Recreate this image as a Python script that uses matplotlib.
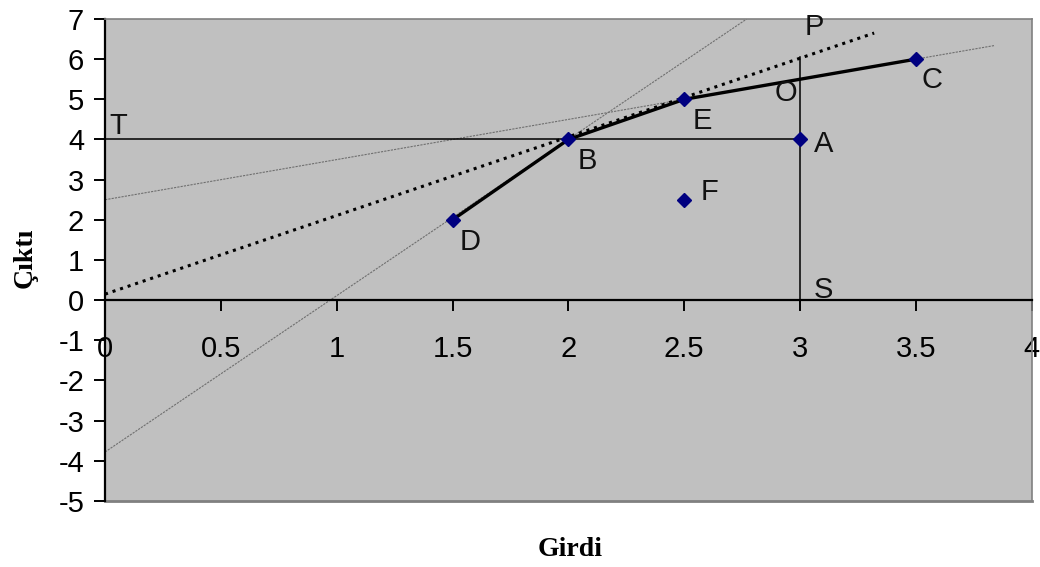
import matplotlib.pyplot as plt
import numpy as np

# noktalar
px = [1.5, 2.0, 2.5, 3.5, 3.0, 2.5]
py = [2.0, 4.0, 5.0, 6.0, 4.0, 2.5]

# kalin egri D-B-E-C
egri_x = [1.5, 2.0, 2.5, 3.5]
egri_y = [2.0, 4.0, 5.0, 6.0]

# yardimci cizgiler
isin_x = [0.0, 3.32]          # noktali, orijinden B'ye
isin_y = [0.15, 6.65]
teget1_x = [0.0, 3.84]        # E-C teget
teget1_y = [2.5, 6.34]
teget2_x = [0.0, 2.77]        # D-B teget
teget2_y = [-3.78, 7.0]
yatay_x = [0.0, 3.0]          # T-A
yatay_y = [4.0, 4.0]
dikey_x = [3.0, 3.0]          # S-P
dikey_y = [0.0, 6.05]

etiketler = ['T', 'B', 'D', 'E', 'F', 'A', 'C', 'O', 'P', 'S']
etiket_x = [0.056, 2.08, 1.575, 2.58, 2.61, 3.10, 3.57, 2.94, 3.06, 3.10]
etiket_y = [4.34, 3.46, 1.45, 4.46, 2.69, 3.89, 5.48, 5.16, 6.8, 0.25]

plt.rcParams['font.family'] = ['Liberation Sans', 'DejaVu Sans']
plt.rcParams['axes.unicode_minus'] = False

fig = plt.figure(figsize=(10.4, 5.67), dpi=100)
ax = fig.add_axes([0.101, 0.1164, 0.891, 0.8501])
ax.set_facecolor('#C0C0C0')

ax.plot(teget2_x, teget2_y, color='#6f6f6f', lw=0.8, ls=(0, (2, 1)))
ax.plot(teget1_x, teget1_y, color='#6f6f6f', lw=0.8, ls=(0, (2, 1)))
ax.plot(isin_x, isin_y, color='black', lw=2.2, ls=(0, (1, 1.6)))
ax.plot(yatay_x, yatay_y, color='black', lw=1.1)
ax.plot(dikey_x, dikey_y, color='black', lw=1.1)
ax.plot(egri_x, egri_y, color='black', lw=2.4, solid_capstyle='round')
ax.plot(px, py, ls='none', marker='D', ms=7, color='#000080')

for t, x, y in zip(etiketler, etiket_x, etiket_y):
    ax.text(x, y, t, fontsize=21, ha='center', va='center', color='#111111')

ax.set_xlim(0, 4)
ax.set_ylim(-5, 7)
ax.set_xticks(np.arange(0, 4.01, 0.5))
ax.set_xticklabels(['0', '0.5', '1', '1.5', '2', '2.5', '3', '3.5', '4'])
ax.set_yticks(range(-5, 8))

ax.spines['bottom'].set_position(('data', 0))
ax.spines['bottom'].set_linewidth(1.6)
ax.spines['left'].set_linewidth(1.6)
ax.spines['top'].set_color('#808080')
ax.spines['right'].set_color('#808080')
ax.spines['top'].set_linewidth(1.2)
ax.spines['right'].set_linewidth(1.2)
ax.tick_params(axis='x', direction='out', length=8, width=1.4, pad=17, labelsize=21)
ax.tick_params(axis='y', direction='out', length=8, width=1.4, pad=7, labelsize=21)

# alt cerceve
ax.axhline(-5, color='#808080', lw=2.0, clip_on=False)

fig.text(0.548, 0.03, 'Girdi', family='Liberation Serif', weight='bold',
         fontsize=20, ha='center', va='center')
fig.text(0.024, 0.545, 'Çıktı', family='Liberation Serif', weight='bold',
         fontsize=20, ha='center', va='center', rotation=90)

plt.savefig('out.png', dpi=100)
